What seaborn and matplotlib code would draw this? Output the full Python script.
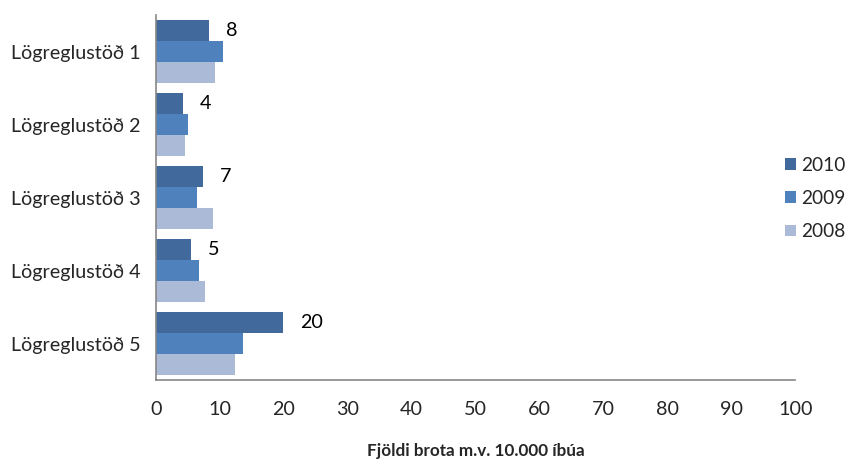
import matplotlib
matplotlib.use("Agg")
import matplotlib.pyplot as plt
import seaborn as sns
import pandas as pd
from matplotlib.ticker import FixedLocator

categories = ["Lögreglustöð 1", "Lögreglustöð 2", "Lögreglustöð 3", "Lögreglustöð 4", "Lögreglustöð 5"]
years = ["2010", "2009", "2008"]
v2010 = [8.3, 4.3, 7.4, 5.5, 19.9]
v2009 = [10.5, 4.95, 6.45, 6.75, 13.6]
v2008 = [9.3, 4.6, 9.0, 7.75, 12.4]
labels2010 = ["8", "4", "7", "5", "20"]
xticks = [0, 10, 20, 30, 40, 50, 60, 70, 80, 90, 100]
xlabel = "Fjöldi brota m.v. 10.000 íbúa"
colors = ["#41699C", "#4F81BD", "#AABAD7"]

rows = []
for yr, vals in zip(years, [v2010, v2009, v2008]):
    for c, v in zip(categories, vals):
        rows.append({"cat": c, "year": yr, "value": v})
df = pd.DataFrame(rows)

sns.set_theme(style="white")
plt.rcParams["font.family"] = ["Lato", "DejaVu Sans"]

FS = 14.2

fig = plt.figure(figsize=(8.47, 4.70), dpi=100)
ax = fig.add_axes([0.184, 0.191, 0.755, 0.777])

sns.barplot(data=df, y="cat", x="value", hue="year", order=categories,
            hue_order=years, palette=colors, orient="h", width=0.87,
            ax=ax, saturation=1, edgecolor="none", legend=True)

ax.bar_label(ax.containers[0], labels=labels2010, padding=12, fontsize=FS, color="#000000")

ax.set_xlim(0, 100)
ax.set_xticks(xticks)
ax.set_xticklabels([str(t) for t in xticks], fontsize=FS)
ax.tick_params(axis="x", direction="out", length=5, width=1, color="#868686", pad=10)
ax.tick_params(axis="y", which="major", length=0, pad=11, labelsize=FS)
ax.yaxis.set_minor_locator(FixedLocator([i - 0.5 for i in range(len(categories) + 1)]))
ax.tick_params(axis="y", which="minor", direction="out", length=5, width=1, color="#868686")
ax.set_ylim(len(categories) - 0.5, -0.5)

for s in ["top", "right"]:
    ax.spines[s].set_visible(False)
for s in ["left", "bottom"]:
    ax.spines[s].set_color("#868686")
    ax.spines[s].set_linewidth(1.2)

ax.set_ylabel("")
ax.set_xlabel(xlabel, fontsize=12.3, fontweight="bold", labelpad=18)

leg = ax.legend(loc="center left", bbox_to_anchor=(0.927, 0.578), bbox_transform=fig.transFigure,
                frameon=False, fontsize=13.8, handlelength=0.55, handleheight=0.55,
                labelspacing=0.85, handletextpad=0.3, borderpad=0.0, borderaxespad=0.0)

fig.savefig("out.png", dpi=100)
